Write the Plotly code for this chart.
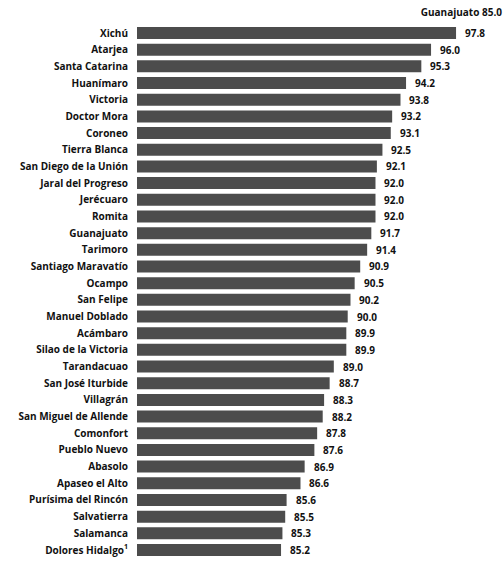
import plotly.graph_objects as go

municipios = [
    "Xichú", "Atarjea", "Santa Catarina", "Huanímaro", "Victoria", "Doctor Mora",
    "Coroneo", "Tierra Blanca", "San Diego de la Unión", "Jaral del Progreso",
    "Jerécuaro", "Romita", "Guanajuato", "Tarimoro", "Santiago Maravatío",
    "Ocampo", "San Felipe", "Manuel Doblado", "Acámbaro", "Silao de la Victoria",
    "Tarandacuao", "San José Iturbide", "Villagrán", "San Miguel de Allende",
    "Comonfort", "Pueblo Nuevo", "Abasolo", "Apaseo el Alto",
    "Purísima del Rincón", "Salvatierra", "Salamanca", "Dolores Hidalgo<sup>1</sup>",
]
valores = [
    97.8, 96.0, 95.3, 94.2, 93.8, 93.2, 93.1, 92.5, 92.1, 92.0, 92.0, 92.0,
    91.7, 91.4, 90.9, 90.5, 90.2, 90.0, 89.9, 89.9, 89.0, 88.7, 88.3, 88.2,
    87.8, 87.6, 86.9, 86.6, 85.6, 85.5, 85.3, 85.2,
]
titulo = "Guanajuato 85.0"

font_fam = "Open Sans"
fig = go.Figure()
fig.add_trace(go.Bar(
    y=municipios, x=valores, orientation="h",
    marker=dict(color="#4c4c4c", line=dict(width=0)),
    hoverinfo="skip",
))
for m, v in zip(municipios, valores):
    fig.add_annotation(x=v, y=m, xref="x", yref="y", text=f"<b>{v:.1f}</b>",
                       showarrow=False, xanchor="left", xshift=7,
                       font=dict(family=font_fam, size=10, color="#111111"))

fig.update_layout(
    width=503, height=562,
    margin=dict(l=137, r=20, t=24, b=3),
    paper_bgcolor="white", plot_bgcolor="white",
    bargap=0.28,
    showlegend=False,
    title=dict(text=f"<b>{titulo}</b>", x=0.998, xanchor="right", xref="container",
               y=1 - 12 / 562, yanchor="middle", yref="container",
               font=dict(family=font_fam, size=10, color="#111111")),
)
fig.update_xaxes(range=[74.83, 74.83 + 346 / 13.89], visible=False, showgrid=False)
fig.update_yaxes(autorange="reversed", showgrid=False, zeroline=False, showline=False,
                 ticks="", ticklabelstandoff=8,
                 tickfont=dict(family=font_fam, size=10, color="#111111"),
                 tickvals=municipios, ticktext=[f"<b>{m}</b>" for m in municipios])
fig.write_html("out.html", config={"displayModeBar": False},
               post_script="document.body.style.margin='0';")
